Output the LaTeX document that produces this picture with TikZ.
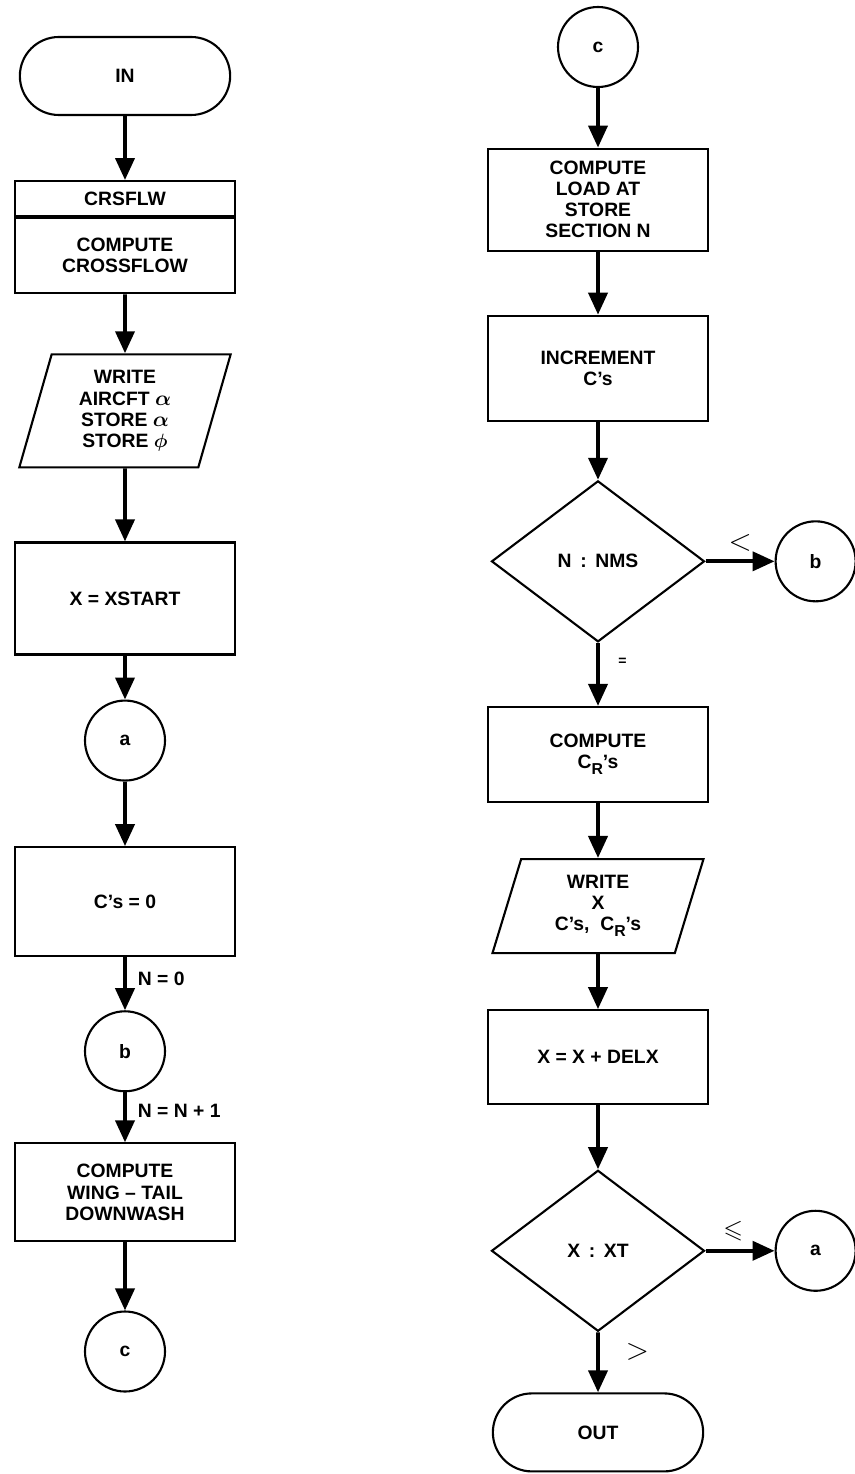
\documentclass[tikz,border=0pt]{standalone}
\usepackage{amsmath,amssymb}
\usepackage{fontspec}
\setmainfont{Liberation Sans}
\usetikzlibrary{arrows.meta,positioning,shapes.geometric,shapes.misc}
\newcommand{\Rsub}{\raisebox{-0.6ex}{\fontsize{9}{9}\selectfont R}}
\newcommand{\galpha}{{\large$\boldsymbol{\alpha}$}}

\begin{document}
\begin{tikzpicture}[
    >={Triangle[length=4.4mm,width=3.8mm]},
    every node/.style={font=\fontsize{11}{12}\selectfont\bfseries},
    box/.style={
        draw,
        line width=1.2pt,
        align=center,
        minimum width=44mm,
        minimum height=#1
    },
    box/.default=21mm,
    term/.style={draw, line width=1.2pt, rounded rectangle,
        minimum width=44.4mm, minimum height=15.6mm},
    io/.style={draw, line width=1.2pt, trapezium, align=center,
        trapezium left angle=76, trapezium right angle=104,
        trapezium stretches=true,
        minimum width=42.4mm, minimum height=#1},
    conn/.style={draw, line width=1.2pt, circle, minimum size=16mm, inner sep=0pt},
    decision/.style={draw, line width=1.2pt, diamond, inner sep=0pt,
        minimum width=42.6mm, minimum height=32.2mm},
    flow/.style={->, line width=2.2pt}
]
  \useasboundingbox (0,0) rectangle (170.8mm,-294.8mm);

  % left column
  \node[term] (in) at (25mm,-15.2mm) {IN};
  \node[box=7mm, below=12.8mm of in] (crsh) {CRSFLW};
  \node[box=15mm, below=0pt of crsh] (crs) {COMPUTE\\CROSSFLOW};
  \node[io=22.6mm, below=11.8mm of crs] (wra) {WRITE\\AIRCFT \galpha\\STORE \galpha\\STORE $\boldsymbol{\phi}$};
  \node[box=22.4mm, below=14.6mm of wra] (xs) {X = XSTART};
  \node[conn, below=8.8mm of xs] (ca) {a};
  \node[box=21.8mm, below=12.9mm of ca] (cz) {C’s = 0};
  \node[conn, below=10.6mm of cz] (cb) {b};
  \node[box=19.6mm, below=10mm of cb] (dw) {COMPUTE\\WING -- TAIL\\DOWNWASH};
  \node[conn, below=13.6mm of dw] (cc) {c};

  % right column
  \node[conn] (rc) at (119.6mm,-9.4mm) {c};
  \node[box=20.4mm, below=11.9mm of rc] (ld) {COMPUTE\\LOAD AT\\STORE\\SECTION N};
  \node[box=21mm, below=12.6mm of ld] (inc) {INCREMENT\\C’s};
  \node[decision, below=11.6mm of inc] (nms) {N \,:\, NMS};
  \node[conn, right=13.8mm of nms] (rb) {b};
  \node[box=19mm, below=12.6mm of nms] (cr) {COMPUTE\\C\Rsub’s};
  \node[io=18.8mm, below=11mm of cr] (wrx) {WRITE\\X\\C’s,\ \ C\Rsub’s};
  \node[box=18.8mm, below=11mm of wrx] (dx) {X = X + DELX};
  \node[decision, below=12.8mm of dx] (xt) {X \,:\, XT};
  \node[conn, right=13.8mm of xt] (ra) {a};
  \node[term, below=12mm of xt] (out) {OUT};

  \draw[flow] (in) -- (crsh);
  \draw[flow] (crs) -- (wra);
  \draw[flow] (wra) -- (xs);
  \draw[flow] (xs) -- (ca);
  \draw[flow] (ca) -- (cz);
  \draw[flow] (cz) -- node[right=1mm, pos=0.4] {N = 0} (cb);
  \draw[flow] (cb) -- node[right=1mm, pos=0.38] {N = N + 1} (dw);
  \draw[flow] (dw) -- (cc);

  \draw[flow] (rc) -- (ld);
  \draw[flow] (ld) -- (inc);
  \draw[flow] (inc) -- (nms);
  \draw[flow] (nms) -- node[above=0.5mm] {\LARGE$<$} (rb);
  \draw[flow] (nms) -- node[right=2.5mm, pos=0.3, font=\footnotesize\bfseries] {=} (cr);
  \draw[flow] (cr) -- (wrx);
  \draw[flow] (wrx) -- (dx);
  \draw[flow] (dx) -- (xt);
  \draw[flow] (xt) -- node[above=0.5mm, pos=0.4] {\Large$\leqslant$} (ra);
  \draw[flow] (xt) -- node[right=4mm, pos=0.32] {\LARGE$>$} (out);
\end{tikzpicture}
\end{document}
